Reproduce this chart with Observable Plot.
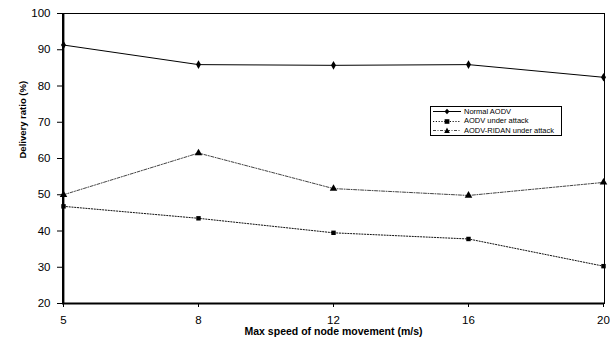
<!DOCTYPE html>
<html><head><meta charset="utf-8">
<script src="https://cdn.jsdelivr.net/npm/d3@7"></script>
<script src="https://cdn.jsdelivr.net/npm/@observablehq/plot@0.6"></script>
<style>
body{margin:0;background:#fff;font-family:"Liberation Sans",Arial,sans-serif;}
#wrap{position:relative;width:610px;height:344px;}
#legend{position:absolute;left:430px;top:106px;width:132px;height:30px;border:1px solid #000;background:#fff;font-size:7.5px;line-height:10px;box-sizing:border-box;padding-top:0px;}
#legend div{display:flex;align-items:center;height:9.6px;white-space:nowrap;}
#legend svg{margin-left:2px;margin-right:3px;}
</style>
</head><body>
<div id="wrap"><div id="chart"></div><div id="legend"></div></div>
<script>
const speeds = ["5", "8", "12", "16", "20"];
const normalAODV = [91.3, 85.9, 85.7, 85.9, 82.4];
const aodvAttack = [46.8, 43.5, 39.5, 37.8, 30.3];
const ridanAttack = [50.0, 61.5, 51.7, 49.8, 53.4];
const seriesNames = ["Normal AODV", "AODV under attack", "AODV-RIDAN under attack"];
const yTicks = [20, 30, 40, 50, 60, 70, 80, 90, 100];

const styles = {
  "Normal AODV": {symbol: "diamond", dash: null, stroke: "#000", r: 2.6},
  "AODV under attack": {symbol: "square", dash: "1.2,1.6", stroke: "#111", r: 2.5},
  "AODV-RIDAN under attack": {symbol: "triangle", dash: "3,1.5,1,1.5", stroke: "#444", r: 2.8}
};
const allValues = [normalAODV, aodvAttack, ridanAttack];
const rows = [];
seriesNames.forEach((s, i) => speeds.forEach((x, j) => rows.push({series: s, x, y: allValues[i][j]})));

const marks = [
  Plot.frame({stroke: "#000", strokeWidth: 1})
];
seriesNames.forEach(s => {
  const d = rows.filter(r => r.series === s);
  const st = styles[s];
  marks.push(Plot.line(d, {x: "x", y: "y", stroke: st.stroke, strokeWidth: 1, strokeDasharray: st.dash}));
  marks.push(Plot.dot(d, {x: "x", y: "y", symbol: () => st.symbol, r: st.r, fill: "#000", stroke: "none"}));
});
marks.push(Plot.ruleX([speeds[0]], {stroke: "#000", strokeWidth: 1.8}));
marks.push(Plot.ruleY([20], {stroke: "#000", strokeWidth: 1.8}));
marks.push(Plot.axisY({ticks: yTicks, tickSize: 5, tickPadding: 7, fontSize: 11.5, label: null}));
marks.push(Plot.axisX({tickSize: 4, tickPadding: 8, fontSize: 11.5, label: null}));
marks.push(Plot.text(["Delivery ratio (%)"], {frameAnchor: "left", dx: -40, rotate: -90, fontSize: 9.5, fontWeight: "bold"}));
marks.push(Plot.text(["Max speed of node movement (m/s)"], {frameAnchor: "bottom", dy: 31, fontSize: 10.5, fontWeight: "bold"}));

const chart = Plot.plot({
  width: 610, height: 344,
  marginLeft: 62, marginRight: 6, marginTop: 13, marginBottom: 41,
  style: {fontFamily: "'Liberation Sans', Arial, sans-serif", color: "#000", background: "#fff"},
  x: {type: "point", domain: speeds, padding: 0},
  y: {domain: [20, 100]},
  marks
});
document.getElementById("chart").appendChild(chart);

// legend
const leg = document.getElementById("legend");
const symPaths = {
  diamond: "M14,1.7 L16.5,4.5 L14,7.3 L11.5,4.5Z",
  square: "M11.6,2.2 H16.4 V6.8 H11.6Z",
  triangle: "M14,1.6 L16.8,6.9 L11.2,6.9Z"
};
seriesNames.forEach(s => {
  const st = styles[s];
  const row = document.createElement("div");
  row.innerHTML = `<svg width="28" height="9"><line x1="0" x2="28" y1="4.5" y2="4.5" stroke="${st.stroke}" stroke-width="1" ${st.dash ? `stroke-dasharray="${st.dash}"` : ""}/><path d="${symPaths[st.symbol]}" fill="#000"/></svg><span>${s}</span>`;
  leg.appendChild(row);
});
</script>
</body></html>
